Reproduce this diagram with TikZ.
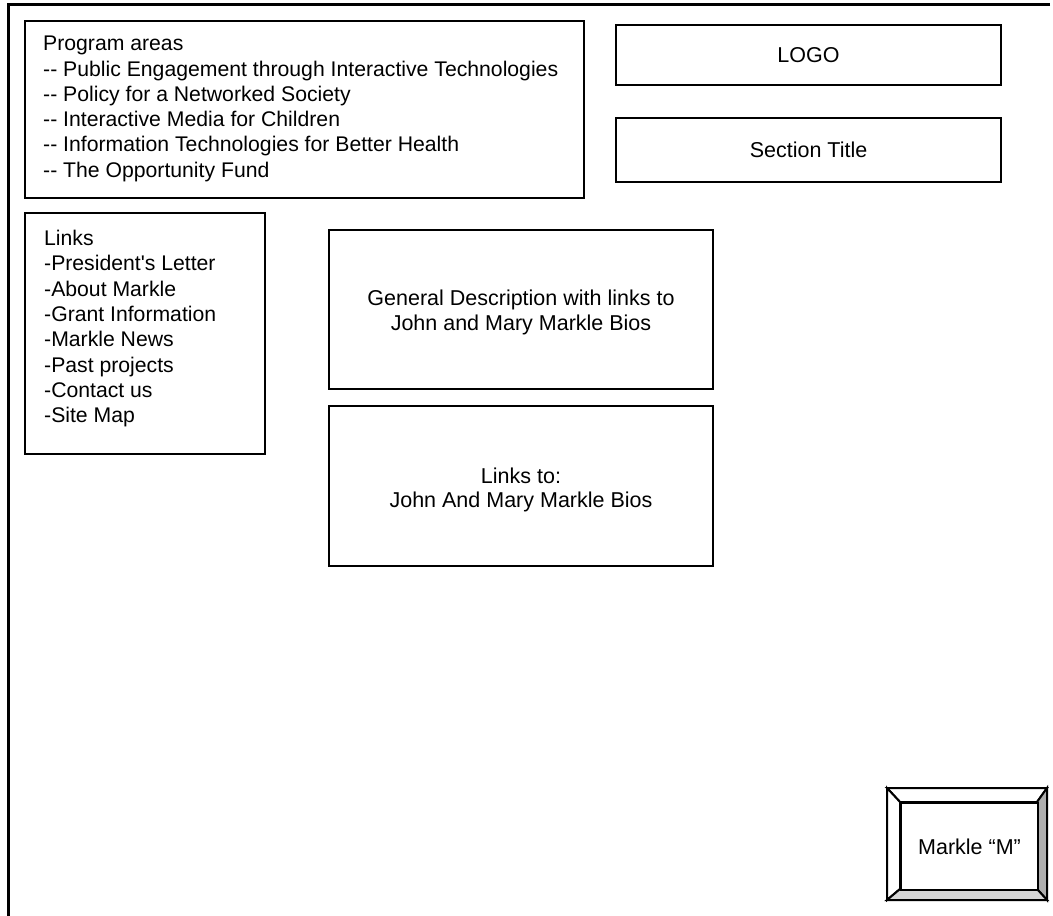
\documentclass[tikz,border=0pt]{standalone}
\usepackage{fontspec}
\setmainfont{Liberation Sans}
\usetikzlibrary{positioning}
\tikzset{
    panel/.style={draw=black,line width=2pt,fill=white,minimum width=#1,inner sep=0pt},
    label/.style={inner sep=0pt,align=left,anchor=north west,font=\fontsize{21.2}{25.3}\selectfont},
    caption/.style={inner sep=0pt,align=center,font=\fontsize{21.5}{24.5}\selectfont}
}
\begin{document}
\begin{tikzpicture}[x=1pt,y=-1pt]
    \useasboundingbox (0,0) rectangle (1053,916);
    % The page frame, which runs off to the right and bottom
    \coordinate (frametop) at (1050,4);
    \coordinate (framecorner) at (8,4);
    \coordinate (framebottom) at (8,916);
    \draw[line width=3pt] (frametop) -- (framecorner) -- (framebottom);
    % Program areas in the top left corner
    \node[panel=559pt,minimum height=177pt,anchor=north west] (areas) at (24,20) {};
    \node[label] (areastext) at (43,36) {Program areas\\
        -{}- Public Engagement through Interactive Technologies\\
        -{}- Policy for a Networked Society\\
        -{}- Interactive Media for Children\\
        -{}- Information Technologies for Better Health\\
        -{}- The Opportunity Fund};
    % Logo and section title on the right
    \node[panel=385pt,minimum height=60pt,anchor=north west] (logo) at (615,24) {};
    \node[caption] at (logo.center) {LOGO};
    \node[panel=385pt,minimum height=64pt,anchor=north west] (title) at (615,117) {};
    \node[caption] at (title.center) {Section Title};
    % Links column
    \node[panel=240pt,minimum height=241pt,anchor=north west] (links) at (24,212) {};
    \node[label] (linkstext) at (44,230) {Links\\-President\textquotesingle s Letter\\-About Markle\\
        -Grant Information\\-Markle News\\-Past projects\\-Contact us\\-Site Map};
    % Two content boxes in the middle
    \node[panel=384pt,minimum height=159pt,anchor=north west] (general) at (328,229) {};
    \node[caption] at ([yshift=-3pt]general.center) {General Description with links to\\John and Mary Markle Bios};
    \node[panel=384pt,minimum height=160pt,anchor=north west] (bios) at (328,405) {};
    \node[caption] at ([yshift=-4pt]bios.center) {Links to:\\John And Mary Markle Bios};
    % Bevelled button in the bottom right corner
    \coordinate (bo1) at (887,788);
    \coordinate (bo2) at (1047,788);
    \coordinate (bo3) at (1047,900);
    \coordinate (bo4) at (887,900);
    \coordinate (bi1) at (900,802);
    \coordinate (bi2) at (1037,802);
    \coordinate (bi3) at (1037,889);
    \coordinate (bi4) at (900,889);
    \filldraw[fill=white,line width=2pt] (bo1) -- (bo2) -- (bi2) -- (bi1) -- cycle;
    \filldraw[fill=white,line width=2pt] (bo1) -- (bi1) -- (bi4) -- (bo4) -- cycle;
    \filldraw[fill=black!32,line width=2pt] (bo2) -- (bo3) -- (bi3) -- (bi2) -- cycle;
    \filldraw[fill=black!16,line width=2pt] (bo4) -- (bi4) -- (bi3) -- (bo3) -- cycle;
    \node[panel=137pt,minimum height=87pt,anchor=north west,line width=2pt] (button) at (bi1) {};
    \node[caption] at (button.center) {Markle “M”};
\end{tikzpicture}
\end{document}
